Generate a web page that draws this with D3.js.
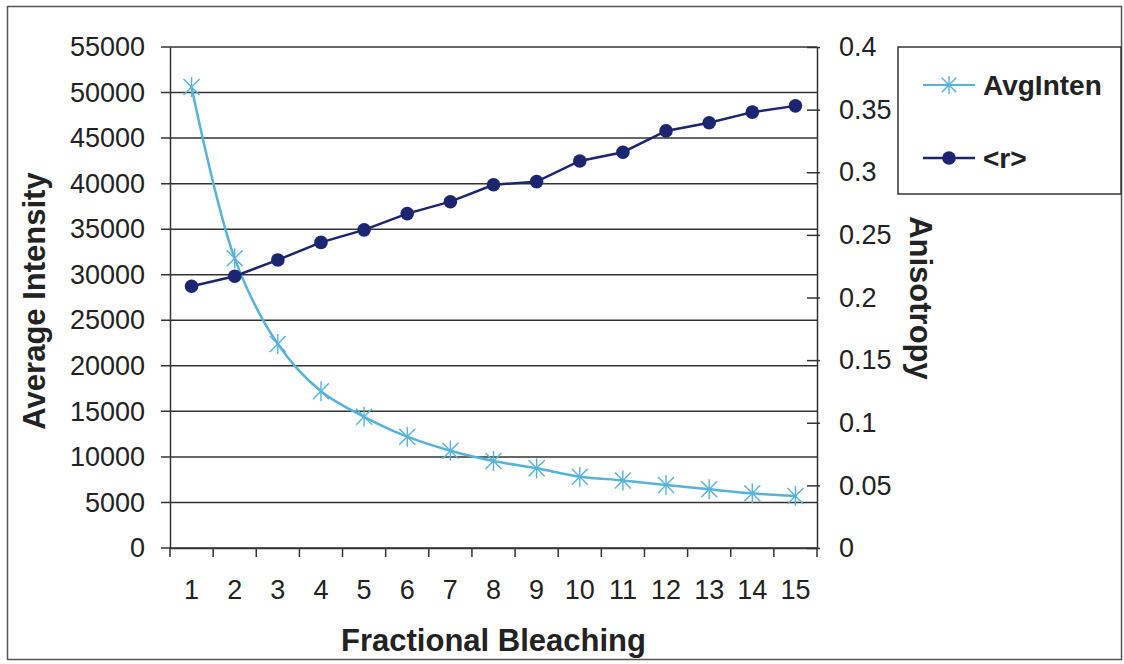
<html>
<script src="https://d3js.org/d3.v7.min.js"></script>
<style>
body{margin:0;background:#fff;}
svg text{font-family:Arial,"Liberation Sans",sans-serif;fill:#222;}
</style>
<body>
<svg id="chart" width="1124" height="664"></svg>
<script>
const bleach = [1,2,3,4,5,6,7,8,9,10,11,12,13,14,15];
const avgInten = [50600,31800,22400,17200,14400,12220,10680,9550,8750,7830,7420,6920,6440,6000,5700];
const aniso = [0.209,0.217,0.230,0.244,0.254,0.267,0.2765,0.290,0.2925,0.309,0.316,0.333,0.3395,0.348,0.353];
const leftTicks = d3.range(0, 55001, 5000);
const rightTicks = [0,0.05,0.1,0.15,0.2,0.25,0.3,0.35,0.4];

const margin = {top:47, left:170, right:307, bottom:116};
const W = 1124, H = 664;
const pw = W - margin.left - margin.right;
const ph = H - margin.top - margin.bottom;

const svg = d3.select('#chart');

// outer frame
svg.append('rect').attr('x',7.5).attr('y',6.5).attr('width',1114).attr('height',653)
  .attr('fill','none').attr('stroke','#555').attr('stroke-width',1.5);

const g = svg.append('g').attr('transform',`translate(${margin.left},${margin.top})`);

const x = d3.scaleBand().domain(bleach).range([0,pw]);
const yL = d3.scaleLinear().domain([0,55000]).range([ph,0]);
const yR = d3.scaleLinear().domain([0,0.4]).range([ph,0]);

// gridlines
g.append('g').selectAll('line').data(leftTicks).enter().append('line')
  .attr('x1',-9).attr('x2',pw).attr('y1',d=>yL(d)).attr('y2',d=>yL(d))
  .attr('stroke','#333').attr('stroke-width',1.5);

// left axis
const ax = g.append('g').call(d3.axisLeft(yL).tickValues(leftTicks).tickSize(0).tickPadding(25).tickFormat(d3.format('d')));
ax.select('.domain').attr('stroke','#333').attr('stroke-width',1.5);
ax.selectAll('text').attr('font-size',27).style('fill','#222');

// right axis
const ar = g.append('g').attr('transform',`translate(${pw},0)`)
  .call(d3.axisRight(yR).tickValues(rightTicks).tickSize(0).tickPadding(22).tickFormat(d3.format('')));
ar.select('.domain').attr('stroke','#333').attr('stroke-width',1.5);
ar.selectAll('text').attr('font-size',27).style('fill','#222');
ar.selectAll('.tick').append('line').attr('x1',-10).attr('x2',3).attr('stroke','#333').attr('stroke-width',1.5);

// bottom axis
const ab = g.append('g').attr('transform',`translate(0,${ph})`)
  .call(d3.axisBottom(x).tickSize(0).tickPadding(32));
ab.select('.domain').attr('stroke','#333').attr('stroke-width',1.5);
ab.selectAll('text').attr('font-size',27).style('fill','#222');
ab.append('g').selectAll('line').data(bleach.concat([16])).enter().append('line')
  .attr('x1',(d,i)=>i*x.step()).attr('x2',(d,i)=>i*x.step())
  .attr('y1',0).attr('y2',9).attr('stroke','#333').attr('stroke-width',1.5);

const cx = d=>x(d)+x.bandwidth()/2;
const light = '#55b3db', dark = '#1b2570';

// AvgInten
g.append('path').datum(avgInten)
  .attr('d',d3.line().x((d,i)=>cx(bleach[i])).y(d=>yL(d)).curve(d3.curveCatmullRom.alpha(0.5)))
  .attr('fill','none').attr('stroke',light).attr('stroke-width',2.5);
const star = (sel, r)=>{
  sel.each(function(){
    const s = d3.select(this);
    [[-r*0.8,-r*0.8,r*0.8,r*0.8],[-r*0.8,r*0.8,r*0.8,-r*0.8],[0,-r,0,r]].forEach(c=>{
      s.append('line').attr('x1',c[0]).attr('y1',c[1]).attr('x2',c[2]).attr('y2',c[3])
        .attr('stroke',light).attr('stroke-width',1.4);
    });
  });
};
g.append('g').selectAll('g').data(avgInten).enter().append('g')
  .attr('transform',(d,i)=>`translate(${cx(bleach[i])},${yL(d)})`)
  .call(star, 10);

// <r>
g.append('path').datum(aniso)
  .attr('d',d3.line().x((d,i)=>cx(bleach[i])).y(d=>yR(d)))
  .attr('fill','none').attr('stroke',dark).attr('stroke-width',2.5);
g.append('g').selectAll('circle').data(aniso).enter().append('circle')
  .attr('cx',(d,i)=>cx(bleach[i])).attr('cy',d=>yR(d)).attr('r',6.8).attr('fill',dark);

// titles
svg.append('text').attr('x',margin.left+pw/2).attr('y',651).attr('text-anchor','middle')
  .attr('font-size',31).attr('font-weight','bold').text('Fractional Bleaching');
svg.append('text').attr('transform','translate(45,301) rotate(-90)').attr('text-anchor','middle')
  .attr('font-size',31).attr('font-weight','bold').text('Average Intensity');
svg.append('text').attr('transform','translate(910,298) rotate(90)').attr('text-anchor','middle')
  .attr('font-size',31).attr('font-weight','bold').text('Anisotropy');

// legend
const lg = svg.append('g');
lg.append('rect').attr('x',898).attr('y',47).attr('width',223).attr('height',147)
  .attr('fill','#fff').attr('stroke','#333').attr('stroke-width',1.5);
lg.append('line').attr('x1',923).attr('x2',975).attr('y1',85).attr('y2',85).attr('stroke',light).attr('stroke-width',2);
lg.append('g').attr('transform','translate(949,85)').call(star, 9);
lg.append('text').attr('x',983).attr('y',95).attr('font-size',28).attr('font-weight','bold').text('AvgInten');
lg.append('line').attr('x1',923).attr('x2',975).attr('y1',158).attr('y2',158).attr('stroke',dark).attr('stroke-width',2.5);
lg.append('circle').attr('cx',949).attr('cy',158).attr('r',6.8).attr('fill',dark);
lg.append('text').attr('x',983).attr('y',168).attr('font-size',28).attr('font-weight','bold').text('<r>');
</script>
</body>
</html>
